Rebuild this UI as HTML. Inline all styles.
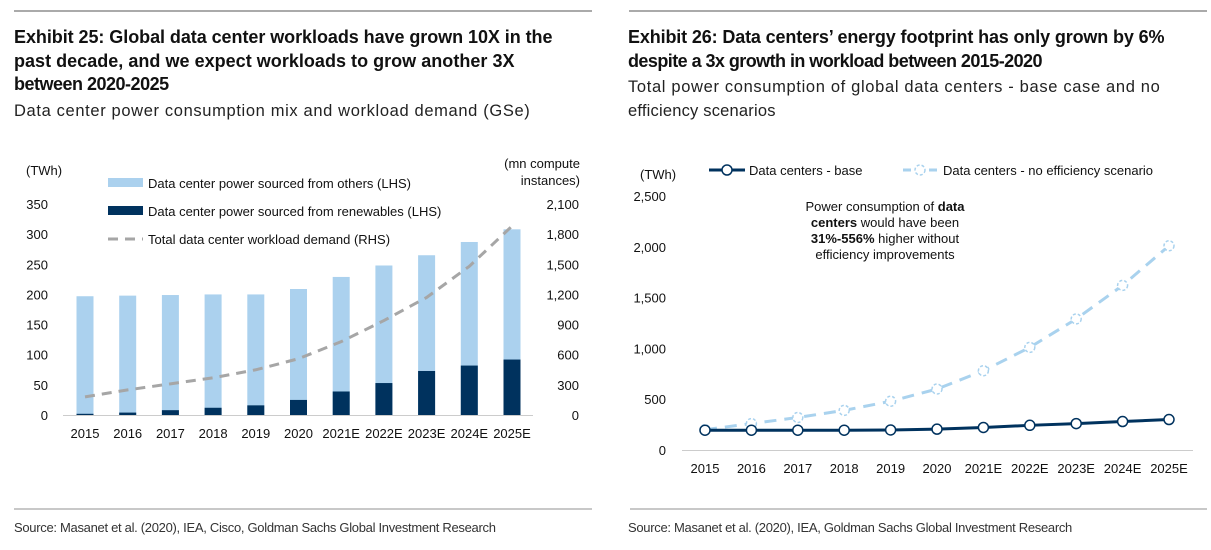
<!DOCTYPE html>
<html><head><meta charset="utf-8"><style>
body{margin:0;background:#fff;}
svg{display:block;font-family:"Liberation Sans",Arial,sans-serif;}
.t{font-weight:bold;font-size:18px;fill:#111;letter-spacing:-0.5px}
.s{font-size:16.5px;fill:#222;letter-spacing:0.2px}
.ax{font-size:13px;fill:#111}
.src{font-size:13px;fill:#333;letter-spacing:-0.3px}
</style></head><body>
<svg id="root" width="1211" height="550" viewBox="0 0 1211 550">
<line x1="14" y1="11" x2="592" y2="11" stroke="#555"/>
<line x1="629" y1="11" x2="1207" y2="11" stroke="#555"/>
<g>
<text class="t" x="14" y="43" textLength="538">Exhibit 25: Global data center workloads have grown 10X in the</text>
<text class="t" x="14" y="67" textLength="500">past decade, and we expect workloads to grow another 3X</text>
<text class="t" x="14" y="90">between 2020-2025</text>
</g>
<text class="s" x="14" y="116" textLength="516">Data center power consumption mix and workload demand (GSe)</text>
<g>
<text class="t" x="628" y="43" textLength="536">Exhibit 26: Data centers’ energy footprint has only grown by 6%</text>
<text class="t" x="628" y="67" textLength="414">despite a 3x growth in workload between 2015-2020</text>
</g>
<g>
<text class="s" x="628" y="92" textLength="532">Total power consumption of global data centers - base case and no</text>
<text class="s" x="628" y="116">efficiency scenarios</text>
</g>
<g id="left"></g>
<g id="right"></g>
<line x1="14" y1="509" x2="592" y2="509" stroke="#c8c8c8" stroke-width="2"/>
<line x1="630" y1="509" x2="1207" y2="509" stroke="#c8c8c8" stroke-width="2"/>
<text class="src" x="14" y="532">Source: Masanet et al. (2020), IEA, Cisco, Goldman Sachs Global Investment Research</text>
<text class="src" x="628" y="532">Source: Masanet et al. (2020), IEA, Goldman Sachs Global Investment Research</text>
</svg>
<script>
const categories=["2015","2016","2017","2018","2019","2020","2021E","2022E","2023E","2024E","2025E"];
const totalPower=[197,198,199,200,200,209,229,248,265,287,308];
const renewables=[2,4,8,12,16,25,39,53,73,82,92];
const workload=[180,250,310,370,450,560,730,940,1170,1480,1880];
const leftTicks=[0,50,100,150,200,250,300,350];
const rightTicks=[0,300,600,900,1200,1500,1800,2100];
const baseCase=[195,195,195,195,197,205,222,243,260,280,300];
const noEfficiency=[200,260,320,390,480,600,780,1010,1290,1620,2010];
const r2Ticks=[0,500,1000,1500,2000,2500];
const NS="http://www.w3.org/2000/svg";
function mk(p,tag,a,txt){const e=document.createElementNS(NS,tag);for(const k in a)e.setAttribute(k,a[k]);if(txt!==undefined)e.textContent=txt;p.appendChild(e);return e;}
function fmt(v){return v.toLocaleString('en-US');}
// left chart
const L=document.getElementById('left');
const lx=i=>85+i*42.7, ly=v=>415-v*(211/350), ry=v=>415-v*(211/2100);
leftTicks.forEach(v=>{const t=mk(L,'text',{x:48,y:ly(v)+5,'text-anchor':'end',class:'ax'},fmt(v));

});
rightTicks.forEach(v=>{const t=mk(L,'text',{x:579,y:ry(v)+5,'text-anchor':'end',class:'ax'},fmt(v));

});
categories.forEach((c,i)=>{
const a=mk(L,'rect',{x:lx(i)-8.5,y:ly(totalPower[i]),width:17,height:ly(0)-ly(totalPower[i]),fill:'#abd1ee'});


const b=mk(L,'rect',{x:lx(i)-8.5,y:ly(renewables[i]),width:17,height:ly(0)-ly(renewables[i]),fill:'#00325e'});


const t=mk(L,'text',{x:lx(i),y:438,'text-anchor':'middle',class:'ax'},c);


});
const ax=mk(L,'line',{x1:63,y1:415.5,x2:533,y2:415.5,stroke:'#ccc'});


const wl=mk(L,'polyline',{points:workload.map((v,i)=>lx(i)+','+ry(v)).join(' '),fill:'none',stroke:'#a6a6a6','stroke-width':3,'stroke-dasharray':'10 7'});


[['(TWh)',26,175,'start']].forEach(d=>{const t=mk(L,'text',{x:d[1],y:d[2],'text-anchor':d[3],class:'ax'},d[0]);});
let u=mk(L,'text',{x:580,y:168,'text-anchor':'end',class:'ax'},'(mn compute');
u=mk(L,'text',{x:580,y:185,'text-anchor':'end',class:'ax'},'instances)');
const leg=[['Data center power sourced from others (LHS)','#abd1ee',183,'rect'],['Data center power sourced from renewables (LHS)','#00325e',211,'rect'],['Total data center workload demand (RHS)','#a6a6a6',239,'dash']];
leg.forEach(d=>{
const g=mk(L,'g',{});


if(d[3]==='rect')mk(g,'rect',{x:108,y:d[2]-5,width:35,height:9,fill:d[1]});
else mk(g,'line',{x1:108,y1:d[2],x2:143,y2:d[2],stroke:d[1],'stroke-width':3,'stroke-dasharray':'10 7'});
mk(g,'text',{x:148,y:d[2]+5,class:'ax'},d[0]);
});
// right chart
const R=document.getElementById('right');
const qx=i=>705+i*46.4, qy=v=>450-v*(254/2500);
r2Ticks.forEach(v=>{const t=mk(R,'text',{x:666,y:qy(v)+5,'text-anchor':'end',class:'ax'},fmt(v));

});
categories.forEach((c,i)=>{const t=mk(R,'text',{x:qx(i),y:473,'text-anchor':'middle',class:'ax'},c);

});
const ax2=mk(R,'line',{x1:682,y1:450.5,x2:1193,y2:450.5,stroke:'#ccc'});


const ne=mk(R,'polyline',{points:noEfficiency.map((v,i)=>qx(i)+','+qy(v)).join(' '),fill:'none',stroke:'#a9d2ee','stroke-width':3,'stroke-dasharray':'12 8'});


noEfficiency.forEach((v,i)=>{const c=mk(R,'circle',{cx:qx(i),cy:qy(v),r:5,fill:'#fff',stroke:'#a9d2ee','stroke-width':1.5,'stroke-dasharray':'3 2'});

});
const bl=mk(R,'polyline',{points:baseCase.map((v,i)=>qx(i)+','+qy(v)).join(' '),fill:'none',stroke:'#00325e','stroke-width':3});


baseCase.forEach((v,i)=>{const c=mk(R,'circle',{cx:qx(i),cy:qy(v),r:5,fill:'#fff',stroke:'#00325e','stroke-width':1.5});

});
u=mk(R,'text',{x:640,y:179,class:'ax'},'(TWh)');
let g=mk(R,'g',{});


mk(g,'line',{x1:709,y1:170,x2:745,y2:170,stroke:'#00325e','stroke-width':3});
mk(g,'circle',{cx:727,cy:170,r:5,fill:'#fff',stroke:'#00325e','stroke-width':1.5});
mk(g,'text',{x:749,y:175,class:'ax'},'Data centers - base');
g=mk(R,'g',{});


mk(g,'line',{x1:903,y1:170,x2:940,y2:170,stroke:'#a9d2ee','stroke-width':3,'stroke-dasharray':'8 5'});
mk(g,'circle',{cx:920,cy:170,r:5,fill:'#fff',stroke:'#a9d2ee','stroke-width':1.5,'stroke-dasharray':'3 2'});
mk(g,'text',{x:943,y:175,class:'ax'},'Data centers - no efficiency scenario');
const ann=mk(R,'text',{x:885,'text-anchor':'middle',class:'ax'});


ann.innerHTML='<tspan x="885" y="211">Power consumption of <tspan font-weight="bold">data</tspan></tspan><tspan x="885" y="227"><tspan font-weight="bold">centers</tspan> would have been</tspan><tspan x="885" y="243"><tspan font-weight="bold">31%-556%</tspan> higher without</tspan><tspan x="885" y="259">efficiency improvements</tspan>';
</script>
</body></html>
